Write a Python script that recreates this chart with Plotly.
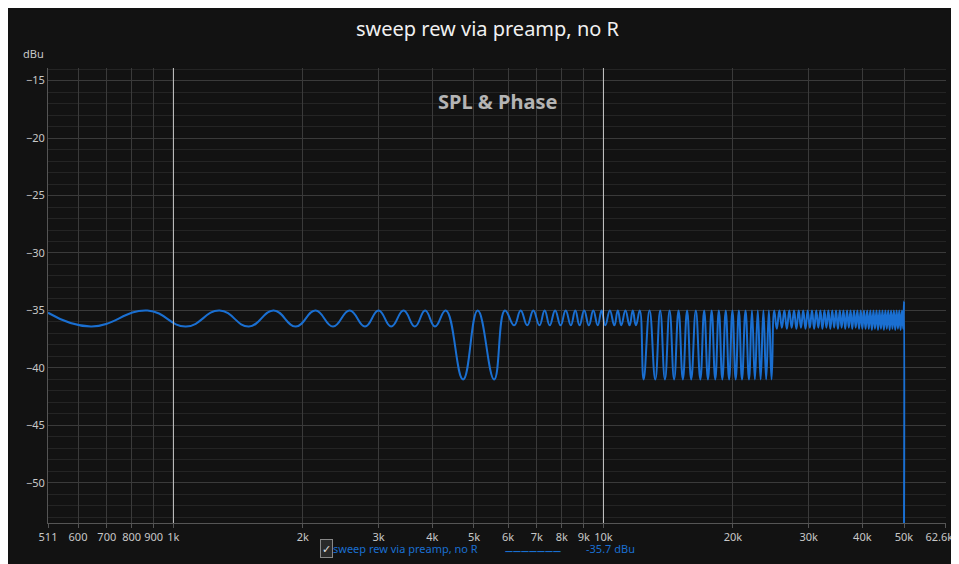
import plotly.graph_objects as go

# notch positions (Hz) and their levels (dBu)
notch_f = [643, 1070, 1498, 1927, 2351, 2790, 3209, 3645, 4058, 4716, 5570,
           6200, 6650, 7100, 7500, 7950, 8400, 8800, 9250, 9700, 10100, 10600, 11000, 11500, 11900,
           12400, 13200, 13900, 14600, 15300, 16000, 16800, 17500, 18200, 18900, 19600, 20300,
           21000, 21800, 22500, 23200, 23900, 24600,
           25300, 26000, 26700, 27400, 28100, 28800, 29500, 30200, 30900, 31600, 32300, 33000,
           33700, 34400, 35100, 35800, 36500, 37200, 37900, 38600, 39300, 40000, 40700, 41400,
           42100, 42800, 43500, 44200, 44900, 45600, 46300, 47000, 47700, 48400, 49100, 49800]
notch_db = [-36.4, -36.4, -36.4, -36.4, -36.4, -36.4, -36.4, -36.4, -36.4, -41.0, -41.0,
            -36.3, -36.3, -36.3, -36.3, -36.3, -36.3, -36.3, -36.3, -36.3, -36.3, -36.3, -36.3, -36.3, -36.3,
            -41.0, -41.0, -41.0, -41.0, -41.0, -41.0, -41.0, -41.0, -41.0, -41.0, -41.0, -41.0,
            -41.0, -41.0, -41.0, -41.0, -41.0, -41.0,
            -36.6, -36.5, -36.6, -36.5, -36.6, -36.5, -36.6, -36.5, -36.6, -36.5, -36.6, -36.5,
            -36.6, -36.5, -36.6, -36.5, -36.6, -36.5, -36.6, -36.5, -36.6, -36.6, -36.6, -36.6,
            -36.7, -36.6, -36.7, -36.6, -36.7, -36.6, -36.7, -36.6, -36.7, -36.6, -36.7, -36.6]
# peak positions (Hz) between notches, all close to -35 dBu
peak_f = [511, 870, 1280, 1710, 2140, 2570, 3000, 3430, 3850, 4300, 5100, 5900,
          6420, 6870, 7300, 7720, 8170, 8600, 9020, 9470, 9900, 10350, 10800, 11250, 11700, 12150,
          12800, 13550, 14250, 14950, 15650, 16400, 17150, 17850, 18550, 19250, 19950, 20650,
          21400, 22150, 22850, 23550, 24250, 24950,
          25650, 26350, 27050, 27750, 28450, 29150, 29850, 30550, 31250, 31950, 32650, 33350,
          34050, 34750, 35450, 36150, 36850, 37550, 38250, 38950, 39650, 40350, 41050, 41750,
          42450, 43150, 43850, 44550, 45250, 45950, 46650, 47350, 48050, 48750, 49450]
peak_db = [-35.2] + [-35.0] * (len(peak_f) - 1)
# end spike at 50 kHz
end_f = [50000, 50000]
end_db = [-34.2, -53.5]

pts = sorted(zip(notch_f + peak_f, notch_db + peak_db)) + list(zip(end_f, end_db))
fx = [p[0] for p in pts]
fy = [p[1] for p in pts]

tick_vals = [511, 600, 700, 800, 900, 1000, 2000, 3000, 4000, 5000, 6000, 7000, 8000, 9000,
             10000, 20000, 30000, 40000, 50000, 62600]
tick_text = ["511", "600", "700", "800", "900", "1k", "2k", "3k", "4k", "5k", "6k", "7k", "8k", "9k",
             "10k", "20k", "30k", "40k", "50k", "62.6kHz"]
y_vals = [-15, -20, -25, -30, -35, -40, -45, -50]

blue = "#1a6fd1"
fig = go.Figure()
fig.add_trace(go.Scatter(x=fx, y=fy, mode="lines", line=dict(color=blue, width=2, shape="spline", smoothing=1.3),
                         showlegend=False, hoverinfo="skip"))

for v in [1000, 10000]:
    fig.add_vline(x=v, line=dict(color="#c8c8c8", width=1))

fig.update_layout(
    width=959, height=564,
    margin=dict(l=40, r=21, t=60, b=49, autoexpand=False),
    paper_bgcolor="#121212", plot_bgcolor="#121212",
    font=dict(family="Noto Sans, Open Sans, sans-serif", color="#c8c8c8", size=11),
    title=dict(text="sweep rew via preamp, no R", x=0.5, y=0.962, xanchor="center", yanchor="middle",
               font=dict(size=20, color="#f0f0f0")),
    xaxis=dict(type="log", range=[2.7084, 4.7966], tickvals=tick_vals, ticktext=tick_text, automargin=False,
               gridcolor="#3a3a3a", showline=True, linecolor="#555", ticks="outside", ticklen=4,
               tickcolor="#555", zeroline=False),
    yaxis=dict(range=[-53.5, -13.9], tickvals=y_vals, gridcolor="#3a3a3a", showline=True, linecolor="#555",
               zeroline=False, ticks="", automargin=False,
               minor=dict(dtick=1, gridcolor="#242424", showgrid=True)),
)

fig.add_annotation(text="<b>SPL & Phase</b>", xref="paper", yref="paper", x=0.5, y=0.96, showarrow=False,
                   font=dict(size=20, color="#b4b4b4"))
fig.add_annotation(text="dBu", xref="paper", yref="paper", x=-0.03, y=1.01, xanchor="left", yanchor="bottom",
                   showarrow=False, font=dict(size=11, color="#c8c8c8"))
# legend row
fig.add_annotation(text="✓", xref="paper", yref="paper", x=0.303, y=-0.078, showarrow=False,
                   bordercolor="#888", borderwidth=1, borderpad=1, bgcolor="#2a2a2a",
                   font=dict(size=11, color="#e0e0e0"))
fig.add_annotation(text="sweep rew via preamp, no R", xref="paper", yref="paper", x=0.315, y=-0.078,
                   xanchor="left", showarrow=False, font=dict(size=11, color=blue))
fig.add_annotation(text="<b>———————</b>", xref="paper", yref="paper", x=0.54, y=-0.078,
                   showarrow=False, font=dict(size=8, color=blue))
fig.add_annotation(text="-35.7 dBu", xref="paper", yref="paper", x=0.597, y=-0.078,
                   xanchor="left", showarrow=False, font=dict(size=11, color=blue))

fig.write_html("out.html")
